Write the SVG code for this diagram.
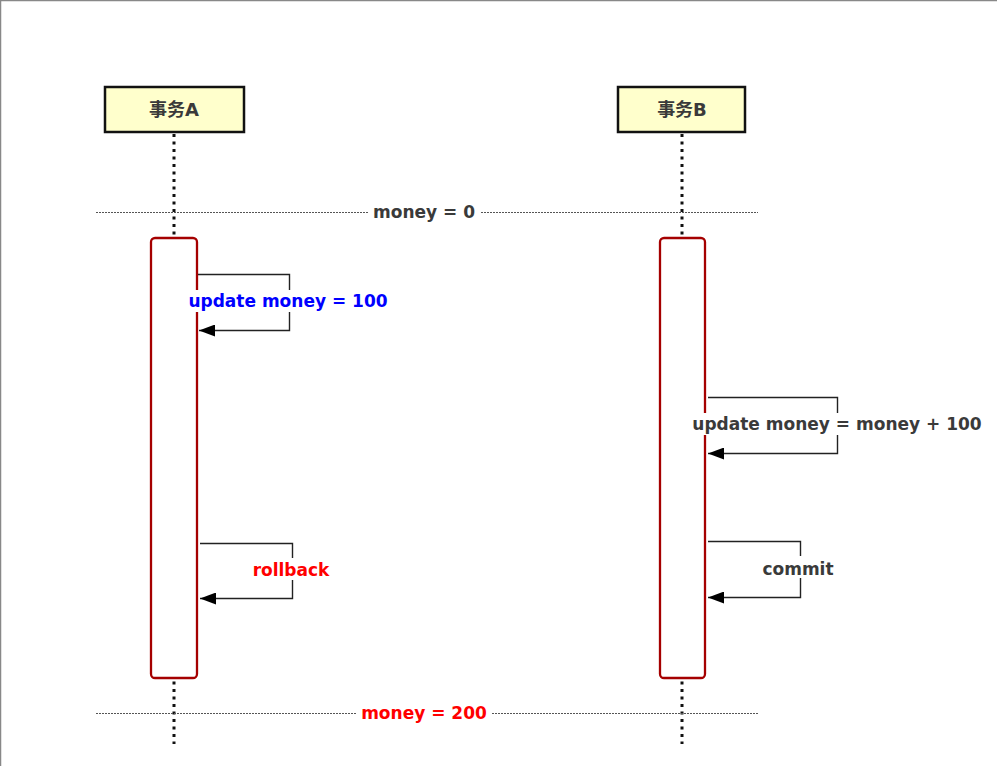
<svg xmlns="http://www.w3.org/2000/svg" width="997" height="766" viewBox="0 0 997 766">
<style>
.lbl{font-family:"DejaVu Sans","Noto Sans CJK SC",sans-serif;font-weight:bold;font-size:17px;text-anchor:middle;fill:#3a3a3a}
.head{font-family:"DejaVu Sans","Noto Sans CJK SC",sans-serif;font-weight:bold;font-size:18px;text-anchor:middle;fill:#3a3a3a}
.pbox{fill:#FFFFCC;stroke:#111;stroke-width:2.5}
.life{stroke:#111;stroke-width:3;stroke-dasharray:3 4.5;fill:none}
.act{fill:#fff;stroke:#A50000;stroke-width:2.3}
.sep{stroke:#555;stroke-width:1;stroke-dasharray:2 1;fill:none}
.msg{stroke:#222;stroke-width:1.4;fill:none}
.bg{fill:#fff}
</style>
<defs>
<marker id="arr" viewBox="0 0 16 12" refX="16" refY="6" markerWidth="16" markerHeight="12" markerUnits="userSpaceOnUse" orient="auto">
<path d="M0,0 L16,6 L0,12 Z" fill="#000"/>
</marker>
</defs>
<rect x="0" y="0" width="997" height="766" fill="#fff"/>
<line x1="0" y1="0.5" x2="997" y2="0.5" stroke="#888" stroke-width="1.5"/>
<line x1="0.5" y1="0" x2="0.5" y2="766" stroke="#888" stroke-width="1.5"/>

<g id="lifelines">
<line class="life" x1="174" y1="134" x2="174" y2="744"/>
<line class="life" x1="682" y1="134" x2="682" y2="744"/>
</g>

<g id="separators">
<line class="sep" x1="96" y1="212.5" x2="368" y2="212.5"/>
<line class="sep" x1="481" y1="212.5" x2="758" y2="212.5"/>
<text class="lbl" x="424" y="218">money = 0</text>
<line class="sep" x1="96" y1="713.5" x2="357" y2="713.5"/>
<line class="sep" x1="492" y1="713.5" x2="758" y2="713.5"/>
<text class="lbl" x="424" y="719" style="fill:#FF0000">money = 200</text>
</g>

<g id="txA">
<rect class="pbox" x="105" y="87" width="139" height="45"/>
<text class="head" x="174" y="116">事务A</text>
</g>
<g id="txB">
<rect class="pbox" x="618" y="87" width="127" height="45"/>
<text class="head" x="682" y="116">事务B</text>
</g>

<g id="actA">
<rect class="act" x="151" y="238" width="46" height="440" rx="4"/>
</g>
<g id="actB">
<rect class="act" x="660" y="238" width="45" height="440" rx="4"/>
</g>

<g id="connectors">
<path class="msg" d="M198,274.5 H289.5 V330.5 H199" marker-end="url(#arr)"/>
<path class="msg" d="M708,397.5 H837.5 V453.5 H708" marker-end="url(#arr)"/>
<path class="msg" d="M200,543.5 H292.5 V598.5 H200" marker-end="url(#arr)"/>
<path class="msg" d="M708,541.5 H800.5 V597.5 H708" marker-end="url(#arr)"/>
</g>

<g id="labels">
<rect class="bg" x="185" y="290" width="206" height="22"/>
<text class="lbl" x="288" y="307" style="fill:#0000FF">update money = 100</text>
<rect class="bg" x="689" y="413" width="296" height="22"/>
<text class="lbl" x="837" y="430">update money = money + 100</text>
<rect class="bg" x="250" y="558" width="83" height="22"/>
<text class="lbl" x="291" y="576" style="fill:#FF0000">rollback</text>
<rect class="bg" x="761" y="556" width="75" height="22"/>
<text class="lbl" x="798" y="575">commit</text>
</g>
</svg>
